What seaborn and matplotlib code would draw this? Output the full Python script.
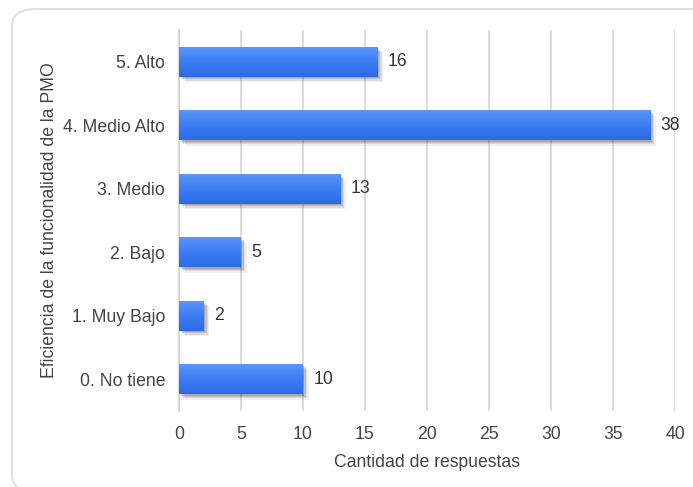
import numpy as np
import pandas as pd
import matplotlib
matplotlib.use("Agg")
import matplotlib.pyplot as plt
import matplotlib.patheffects as pe
from matplotlib.patches import FancyBboxPatch
from matplotlib.colors import LinearSegmentedColormap
import seaborn as sns

categories = ["5. Alto", "4. Medio Alto", "3. Medio", "2. Bajo", "1. Muy Bajo", "0. No tiene"]
responses = [16, 38, 13, 5, 2, 10]
x_ticks = [0, 5, 10, 15, 20, 25, 30, 35, 40]

df = pd.DataFrame({"nivel": categories, "respuestas": responses})

sns.set_theme(style="white")
plt.rcParams["font.family"] = ["Liberation Sans", "DejaVu Sans"]

fig = plt.figure(figsize=(6.93, 4.87), dpi=100)
W, H = 693, 487
FS = 12.7

# rounded card behind the chart
card = FancyBboxPatch((12 / W, 1 - 492 / H), 700 / W, 483 / H,
                      boxstyle="round,pad=0,rounding_size=0.035",
                      transform=fig.transFigure, facecolor="white",
                      edgecolor="#dcdcdc", linewidth=1.3, zorder=-5)
fig.patches.append(card)

ax = fig.add_axes([179 / W, 1 - 411 / H, 496 / W, 381 / H])
ax.set_facecolor("none")
ax.set_zorder(2)

sns.barplot(data=df, x="respuestas", y="nivel", order=categories,
            color="#3b7cf5", width=0.47, ax=ax, zorder=3, saturation=1)

# soft drop shadow built from a few faint offset copies
shadow = [pe.SimplePatchShadow(offset=(d, -d), shadow_rgbFace="#000000", alpha=a)
          for d, a in [(4.0, 0.06), (3.0, 0.09), (2.0, 0.12), (1.0, 0.12)]]

grad = LinearSegmentedColormap.from_list("bar", ["#5c94f9", "#3b7df5", "#2e69e4"])
gradient = np.linspace(0, 1, 64).reshape(-1, 1)
for bar in ax.patches:
    bar.set_path_effects(shadow + [pe.Normal()])
    bar.set_edgecolor("none")
    x0, y0 = bar.get_x(), bar.get_y()
    w, h = bar.get_width(), bar.get_height()
    im = ax.imshow(gradient, cmap=grad, aspect="auto",
                   extent=(x0, x0 + w, y0 + h, y0), zorder=4)
    im.set_clip_path(bar)

for bar, v in zip(ax.patches, responses):
    ax.text(bar.get_width() + 0.85, bar.get_y() + bar.get_height() / 2, str(v),
            va="center", ha="left", fontsize=FS, color="#333333", zorder=5)

ax.set_xlim(0, 40)
ax.set_ylim(5.5, -0.5)
ax.set_xticks(x_ticks)
ax.xaxis.grid(True, color="#d6d6d6", linewidth=1.2, zorder=0)
ax.yaxis.grid(False)
ax.tick_params(axis="both", length=0, labelsize=FS, labelcolor="#444444")
ax.tick_params(axis="y", pad=10)
ax.tick_params(axis="x", pad=10.5)

for side in ["top", "right", "bottom"]:
    ax.spines[side].set_visible(False)
ax.spines["left"].set_color("#cfcfcf")
ax.spines["left"].set_linewidth(1.2)

ax.set_xlabel("Cantidad de respuestas", fontsize=FS, color="#444444", labelpad=8)
ax.set_ylabel("Eficiencia de la funcionalidad de la PMO", fontsize=FS,
              color="#444444", labelpad=4)

fig.savefig("out.png", dpi=100)
